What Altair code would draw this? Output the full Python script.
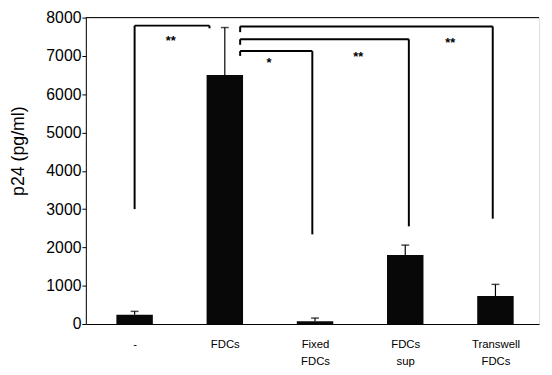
import altair as alt
import pandas as pd

# ---- data ----
categories = ["-", "FDCs", "Fixed\nFDCs", "FDCs\nsup", "Transwell\nFDCs"]
positions = [0, 1, 2, 3, 4]
means = [240, 6500, 70, 1800, 730]
err_tops = [330, 7740, 155, 2060, 1035]

# significance brackets (x in category units, y in pg/ml)
br_left = [0, 1.17, 1.17, 1.17]
br_right = [0.83, 3.97, 3.04, 1.97]
br_top = [7790, 7770, 7434, 7125]
br_left_bottom = [3000, 7620, 7290, 7000]
br_right_bottom = [7720, 2750, 2550, 2340]
star_x = [0.40, 3.50, 2.48, 1.49]
star_y = [7460, 7410, 7050, 6890]
star_text = ["**", "**", "**", "*"]

y_ticks = [0, 1000, 2000, 3000, 4000, 5000, 6000, 7000, 8000]

# ---- tables ----
bars = pd.DataFrame({"pos": positions, "mean": means, "err": err_tops})

segs = []
for xl, xr, t, lb, rb in zip(br_left, br_right, br_top, br_left_bottom, br_right_bottom):
    segs.append({"x": xl, "x2": xr, "y": t, "y2": t})
    segs.append({"x": xl, "x2": xl, "y": t, "y2": lb})
    segs.append({"x": xr, "x2": xr, "y": t, "y2": rb})
segs = pd.DataFrame(segs)
stars = pd.DataFrame({"x": star_x, "y": star_y, "t": star_text})

lbl = "[" + ",".join("'" + c.replace("\n", "|") + "'" for c in categories) + "]"
label_expr = f"split({lbl}[datum.value], '|')"

FONT = "Liberation Sans"
xscale = alt.Scale(domain=[-0.486, 4.429], nice=False, zero=False)
yscale = alt.Scale(domain=[0, 8000], nice=False)

xaxis = alt.Axis(values=positions, tickCount=10, labelExpr=label_expr, title=None, grid=False,
                 ticks=False, domainColor="black", labelColor="black",
                 labelFont=FONT, labelFontSize=11.5, labelLineHeight=17,
                 labelBaseline="top", labelPadding=15, labelAngle=0,
                 labelOverlap=False)
yaxis = alt.Axis(values=y_ticks, tickCount=20, format="d", labelOverlap=False,
                 title="p24 (pg/ml)", grid=False,
                 domainColor="black", tickColor="black", tickSize=4,
                 labelColor="black", labelFont=FONT, labelFontSize=16,
                 labelPadding=1, titleFont=FONT, titleFontSize=18,
                 titleFontWeight="normal", titleColor="black",
                 titleAngle=-90, titleX=-68, titleY=135,
                 titleAlign="center", titleBaseline="middle")


def X(f):
    return alt.X(f, type="quantitative", scale=xscale, axis=xaxis)


def Y(f):
    return alt.Y(f, type="quantitative", scale=yscale, axis=yaxis)


base = alt.Chart(bars)

bar = base.mark_bar(size=37, color="#080808").encode(x=X("pos"), y=Y("mean"))
stem = base.mark_rule(color="black", strokeWidth=1.2).encode(
    x=X("pos"), y=Y("mean"), y2="err:Q")
cap = base.mark_tick(color="black", orient="horizontal", size=8, thickness=1.5).encode(
    x=X("pos"), y=Y("err"))

brackets = alt.Chart(segs).mark_rule(color="black", strokeWidth=2).encode(
    x=X("x"), x2="x2:Q", y=Y("y"), y2="y2:Q")

star_marks = alt.Chart(stars).mark_text(font=FONT, fontSize=13, fontWeight="bold",
                                        color="black", baseline="alphabetic", dy=7).encode(
    x=X("x"), y=Y("y"), text="t:N")

topline = alt.Chart(pd.DataFrame({"v": [8000]})).mark_rule(color="black", strokeWidth=1).encode(
    y=Y("v"))

chart = alt.layer(bar, stem, cap, brackets, star_marks, topline).properties(
    width=460, height=311,
    autosize=alt.AutoSizeParams(type="none"),
    padding={"left": 79, "top": 7, "right": 5, "bottom": 48},
).configure_view(stroke=None).configure(background="white")

chart.save("out.html", embed_options={"renderer": "svg", "actions": False})
